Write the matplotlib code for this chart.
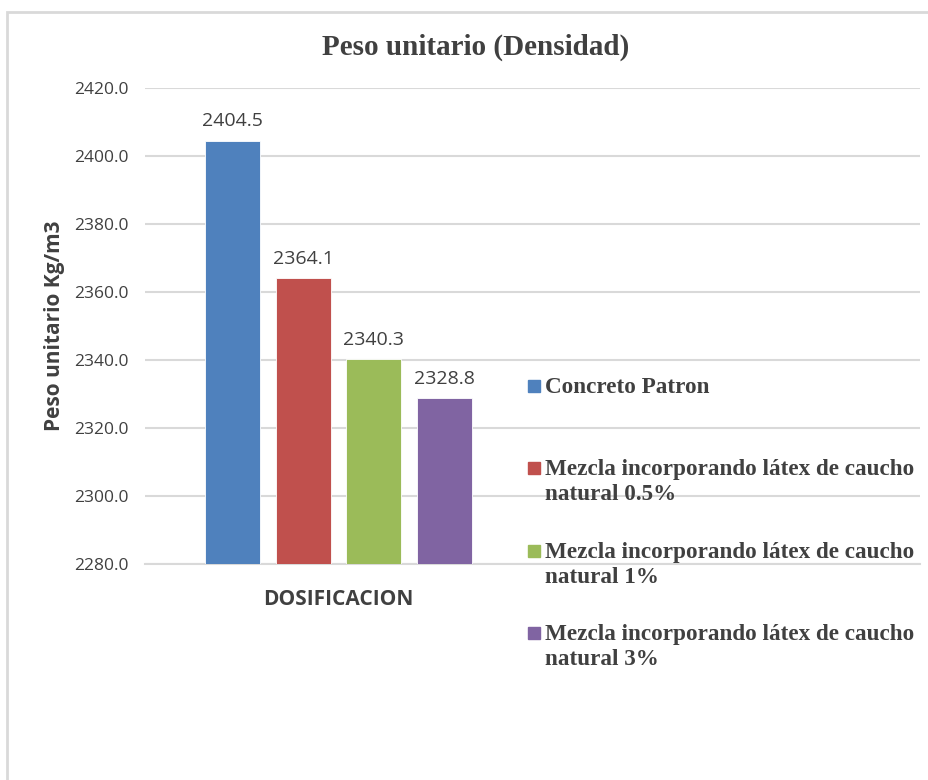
import matplotlib
matplotlib.use('Agg')
import numpy as np
from matplotlib import pyplot as plt
from matplotlib.patches import Rectangle

# Datos del grafico
series = ['Concreto Patron',
          'Mezcla incorporando látex de caucho\nnatural 0.5%',
          'Mezcla incorporando látex de caucho\nnatural 1%',
          'Mezcla incorporando látex de caucho\nnatural 3%']
valores = [2404.5, 2364.1, 2340.3, 2328.8]
colores = ['#4F81BD', '#C0504D', '#9BBB59', '#8064A2']
categoria = 'DOSIFICACION'
yticks = [2280, 2300, 2320, 2340, 2360, 2380, 2400, 2420]

gris = '#404040'

fig = plt.figure(figsize=(9.29, 7.8), dpi=100)
ax = fig.add_axes([145/929, 1-564/780, (920-145)/929, (564-88)/780])

x = np.arange(len(valores))
barras = ax.bar(x, valores, width=0.78, color=colores, edgecolor='white',
                linewidth=0.6, zorder=3)
for xi, v in zip(x, valores):
    ax.annotate(f'{v:.1f}', (xi, v), xytext=(0, 7.5), textcoords='offset points',
                ha='center', va='bottom', fontsize=14, color=gris,
                family='Open Sans')

ax.set_ylim(2280, 2420)
ax.set_xlim(-1.24, 9.74)
ax.set_yticks(yticks)
ax.set_yticklabels([f'{t:.1f}' for t in yticks], family='Open Sans',
                   fontsize=12.5, color=gris)
ax.set_xticks([np.mean(x)])
ax.set_xticklabels([categoria], family='Open Sans', fontsize=15,
                   fontweight='bold', color=gris)
ax.tick_params(axis='y', length=0, pad=12)
ax.tick_params(axis='x', length=0, pad=18)
ax.grid(axis='y', color='#D9D9D9', linewidth=1.5, zorder=0)
for s in ['top', 'right', 'left']:
    ax.spines[s].set_visible(False)
ax.spines['bottom'].set_color('#D9D9D9')
ax.spines['bottom'].set_linewidth(1.5)

ax.set_ylabel('Peso unitario Kg/m3', family='Open Sans', fontsize=15,
              fontweight='bold', color=gris, labelpad=6.5)

fig.text(476/929, 1-47/780, 'Peso unitario (Densidad)', ha='center',
         va='center', family='Liberation Serif', fontsize=21,
         fontweight='bold', color=gris)

# Leyenda manual (a la derecha, sobre el area de trazado)
for i, (lab, col) in enumerate(zip(series, colores)):
    base = 393 + i * 82.3
    fig.patches.append(Rectangle((528/929, 1-(base-1)/780), 12/929, 12/780,
                                 transform=fig.transFigure, color=col,
                                 zorder=5))
    for j, linea in enumerate(lab.split('\n')):
        fig.text(545/929, 1-(base + j*25)/780, linea, ha='left', va='baseline',
                 family='Liberation Serif', fontsize=16.7, fontweight='bold',
                 color=gris, zorder=5)

# Borde del area del grafico
fig.patches.append(Rectangle((7/929, -0.05), 1.1, 1-12/780+0.05,
                             transform=fig.transFigure, fill=False,
                             edgecolor='#D9D9D9', linewidth=2))

fig.savefig('out.png', dpi=100)
